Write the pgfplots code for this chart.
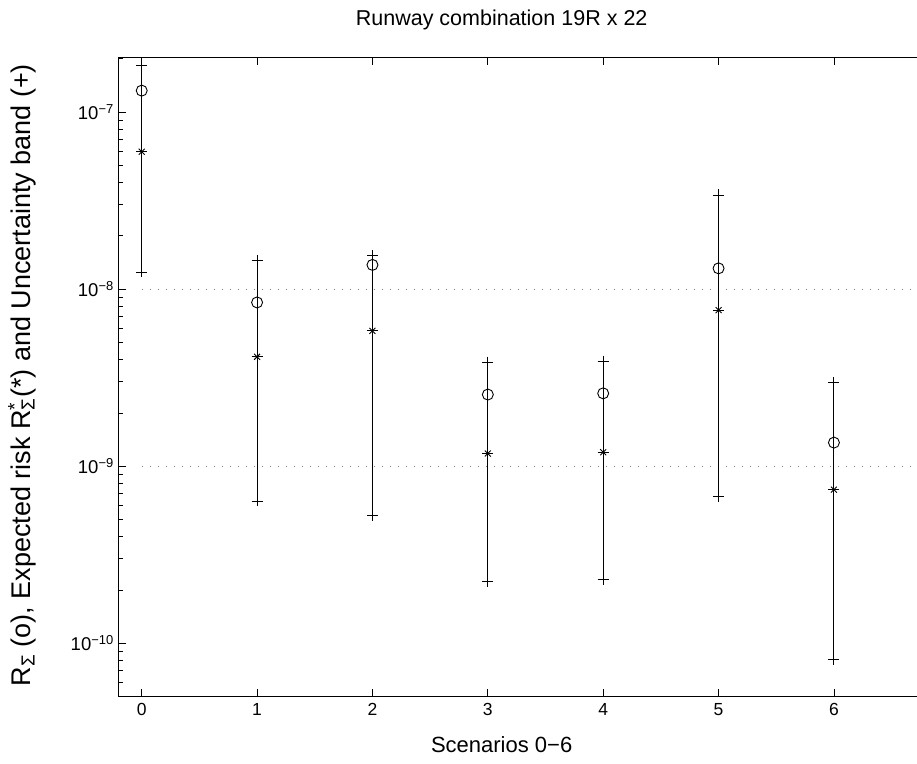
\documentclass[border=0pt]{standalone}
\usepackage{fontspec}
\setmainfont{Liberation Sans}
\usepackage{pgfplots}
\pgfplotsset{compat=1.18}
\pgfplotstableread{
x lower upper rs rstar
0 1.25e-8 1.82e-7 1.32e-7 5.97e-8
1 6.37e-10 1.46e-8 8.41e-9 4.15e-9
2 5.29e-10 1.54e-8 1.37e-8 5.81e-9
3 2.25e-10 3.87e-9 2.54e-9 1.18e-9
4 2.29e-10 3.92e-9 2.58e-9 1.20e-9
5 6.77e-10 3.40e-8 1.31e-8 7.61e-9
6 8.09e-11 2.96e-9 1.36e-9 7.38e-10
}\data
\begin{document}
\begin{tikzpicture}
\path[use as bounding box] (-118.3pt,-66.3pt) rectangle (798.7pt,696.7pt);
\begin{axis}[
  at={(0pt,0pt)}, anchor=south west,
  scale only axis, width=798.7pt, height=639.2pt,
  ymode=log,
  xmin=-0.203, xmax=6.72, ymin=5e-11, ymax=2.03e-7,
  axis x line*=box, axis y line*=left,
  axis line style={line width=1.3pt, black},
  tick align=inside,
  major tick length=8pt, minor tick length=4.5pt,
  every tick/.style={black, line width=0.8pt},
  xtick={0,1,2,3,4,5,6},
  ytick={1e-10,1e-9,1e-8,1e-7},
  yticklabels={10\textsuperscript{−10},10\textsuperscript{−9},10\textsuperscript{−8},10\textsuperscript{−7}},
  minor ytick={6e-11,7e-11,8e-11,9e-11,2e-10,3e-10,4e-10,5e-10,6e-10,7e-10,8e-10,9e-10,2e-9,3e-9,4e-9,5e-9,6e-9,7e-9,8e-9,9e-9,2e-8,3e-8,4e-8,5e-8,6e-8,7e-8,8e-8,9e-8,2e-7},
  /pgf/number format/assume math mode=true,
  xticklabel style={font=\fontsize{17.5}{20}\selectfont, yshift=-3pt},
  yticklabel style={font=\fontsize{18.5}{21}\selectfont, xshift=-1pt},
  title={Runway combination 19R x 22},
  every axis title/.style={at={(rel axis cs:0.48,1)}, yshift=37.5pt, anchor=center, font=\fontsize{21.5}{24}\selectfont},
  xlabel={Scenarios 0−6},
  every axis x label/.style={at={(rel axis cs:0.48,0)}, yshift=-48.3pt, anchor=center, font=\fontsize{22}{24}\selectfont},
  ylabel={R\textsubscript{Σ} (o), Expected risk R\rlap{\textsuperscript{*}}\textsubscript{Σ}(*) and Uncertainty band (+)},
  every axis y label/.style={at={(rel axis cs:0,0.503)}, xshift=-96.3pt, rotate=90, anchor=center, font=\fontsize{27}{30}\selectfont},
  clip=false,
]
% dotted reference lines
\addplot[gray, line width=1pt, dash pattern=on 1pt off 7pt] coordinates {(0,1e-8) (6.66,1e-8)};
\addplot[gray, line width=1pt, dash pattern=on 1pt off 7pt] coordinates {(0,1e-9) (6.66,1e-9)};
% uncertainty bands
\addplot[black, line width=0.9pt, unbounded coords=jump] coordinates {
(0,1.25e-8) (0,1.82e-7) (0,nan)
(1,6.37e-10) (1,1.46e-8) (1,nan)
(2,5.29e-10) (2,1.54e-8) (2,nan)
(3,2.25e-10) (3,3.87e-9) (3,nan)
(4,2.29e-10) (4,3.92e-9) (4,nan)
(5,6.77e-10) (5,3.40e-8) (5,nan)
(6,8.09e-11) (6,2.96e-9)
};
\addplot[only marks, mark=+, mark size=5.5pt, mark options={line width=0.9pt, black}] table[x=x, y=lower] {\data};
\addplot[only marks, mark=+, mark size=5.5pt, mark options={line width=0.9pt, black}] table[x=x, y=upper] {\data};
\addplot[only marks, mark=o, mark size=5.5pt, mark options={line width=0.9pt, black, fill=white}] table[x=x, y=rs] {\data};
\addplot[only marks, mark=+, mark size=5.5pt, mark options={line width=0.9pt, black}] table[x=x, y=rstar] {\data};
\addplot[only marks, mark=x, mark size=4.2pt, mark options={line width=0.9pt, black}] table[x=x, y=rstar] {\data};
\end{axis}
\end{tikzpicture}
\end{document}
